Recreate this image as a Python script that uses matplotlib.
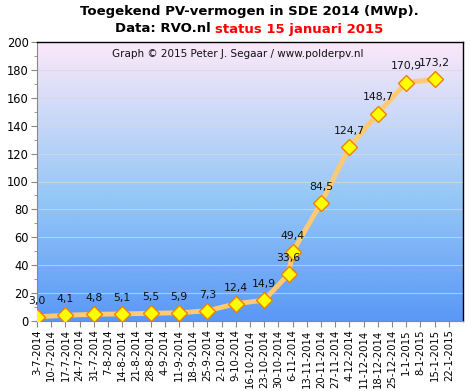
import matplotlib
matplotlib.use("Agg")
import matplotlib.pyplot as plt
import matplotlib.dates as mdates
from matplotlib.colors import LinearSegmentedColormap
import numpy as np
import datetime as dt

dates = ["2014-07-03", "2014-07-17", "2014-07-31", "2014-08-14", "2014-08-28",
         "2014-09-11", "2014-09-25", "2014-10-09", "2014-10-23", "2014-11-04",
         "2014-11-06", "2014-11-20", "2014-12-04", "2014-12-18", "2015-01-01",
         "2015-01-15"]
values = [3.0, 4.1, 4.8, 5.1, 5.5, 5.9, 7.3, 12.4, 14.9, 33.6, 49.4, 84.5,
          124.7, 148.7, 170.9, 173.2]
tick_start = "2014-07-03"
tick_count = 30

x = [dt.datetime.strptime(d, "%Y-%m-%d") for d in dates]
t0 = dt.datetime.strptime(tick_start, "%Y-%m-%d")
ticks = [t0 + dt.timedelta(days=7 * i) for i in range(tick_count)]
tick_labels = [f"{t.day}-{t.month}-{t.year}" for t in ticks]

fig = plt.figure(figsize=(4.71, 3.91), dpi=100)
ax = fig.add_axes([37 / 471, (391 - 321) / 391, (463 - 37) / 471, (321 - 42) / 391])

xmin = mdates.date2num(t0)
xmax = mdates.date2num(t0 + dt.timedelta(days=210))
ax.set_xlim(xmin, xmax)
ax.set_ylim(0, 200)

cmap = LinearSegmentedColormap.from_list(
    "bg", [(0.0, (90/255, 152/255, 246/255)), (0.45, (150/255, 200/255, 246/255)),
           (1.0, (252/255, 232/255, 250/255))])
grad = np.linspace(0, 1, 256).reshape(-1, 1)
ax.imshow(grad, cmap=cmap, aspect="auto", origin="lower",
          extent=[xmin, xmax, 0, 200], zorder=0)

for yv in range(20, 200, 20):
    ax.axhline(yv, color=(0.85, 0.85, 0.85), lw=0.8, alpha=0.7, zorder=1)

xn = mdates.date2num(x)
ax.plot(xn, values, color="#ffca72", lw=3.5, zorder=3, solid_capstyle="round")
ax.plot(xn, values, ls="none", marker="D", ms=8.5, mfc="#ffff00",
        mec="#f08000", mew=1.0, zorder=4)

for xi, v in zip(xn, values):
    ax.annotate(f"{v:.1f}".replace(".", ","), (xi, v), xytext=(0, 8),
                textcoords="offset points", ha="center", va="bottom",
                fontsize=7.8, color="#111111", zorder=5)

ax.set_xticks(mdates.date2num(ticks))
ax.set_xticklabels(tick_labels, rotation=90, fontsize=7.3)
ax.set_yticks(range(0, 201, 20))
ax.set_yticks(range(10, 200, 20), minor=True)
ax.tick_params(axis="y", labelsize=8.3, length=4, color="#888888", pad=2)
ax.tick_params(axis="y", which="minor", length=2, color="#888888")
ax.tick_params(axis="x", length=4, color="#888888", pad=2)

for s in ["top", "right"]:
    ax.spines[s].set_color("black")
    ax.spines[s].set_linewidth(1.0)
for s in ["left", "bottom"]:
    ax.spines[s].set_color("#888888")
    ax.spines[s].set_linewidth(0.8)

ax.text(0.472, 0.975, "Graph \u00a9 2015 Peter J. Segaar / www.polderpv.nl",
        transform=ax.transAxes, ha="center", va="top", fontsize=7.5,
        color="#111111", zorder=6)

fig.text(0.53, 1 - 12 / 391, "Toegekend PV-vermogen in SDE 2014 (MWp).",
         ha="center", va="center", fontsize=9.5, fontweight="bold")
t1 = fig.text(115 / 471, 1 - 29 / 391, "Data: RVO.nl ", ha="left", va="center",
              fontsize=9.5, fontweight="bold")
fig.canvas.draw()
bb = t1.get_window_extent()
fig.text(bb.x1 / fig.bbox.width, 1 - 29 / 391, "status 15 januari 2015",
         ha="left", va="center", fontsize=9.5, fontweight="bold", color="red")

fig.savefig("out.png", dpi=100)
